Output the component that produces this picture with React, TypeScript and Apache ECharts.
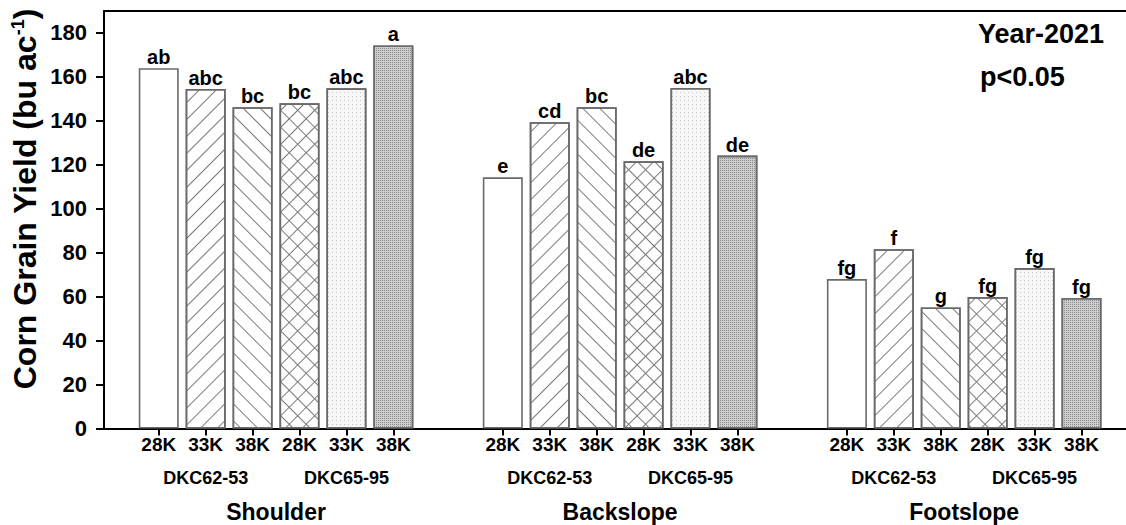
import React, { useEffect, useRef } from "react";
import * as echarts from "echarts";

// ---------- data ----------
const SLOPES = ["Shoulder", "Backslope", "Footslope"];
const CULTIVARS = ["DKC62-53", "DKC65-95"];
const DENSITIES = ["28K", "33K", "38K"];

const SHOULDER_YIELD = [164.0, 154.5, 146.2, 148.0, 154.8, 174.3];
const BACKSLOPE_YIELD = [114.3, 139.4, 146.2, 121.6, 155.0, 124.2];
const FOOTSLOPE_YIELD = [68.0, 81.6, 55.1, 59.8, 73.0, 59.4];

const SHOULDER_LETTERS = ["ab", "abc", "bc", "bc", "abc", "a"];
const BACKSLOPE_LETTERS = ["e", "cd", "bc", "de", "abc", "de"];
const FOOTSLOPE_LETTERS = ["fg", "f", "g", "fg", "fg", "fg"];

const Y_TICKS = [0, 20, 40, 60, 80, 100, 120, 140, 160, 180];

const YEAR_NOTE = "Year-2021";
const P_NOTE = "p<0.05";

// ---------- layout ----------
const W = 1126;
const H = 525;
const GRID_LEFT = 104;
const GRID_TOP = 11;
const GRID_HEIGHT = 417.5;
const UNIT_PX = 7.82;
const X_MAX = (W - GRID_LEFT) / UNIT_PX;
const FIRST = 7;
const BAR_STEP = 6;
const GROUP_STEP = 44;
const FONT = "'Liberation Sans', Arial, Helvetica, sans-serif";

const YIELDS = [SHOULDER_YIELD, BACKSLOPE_YIELD, FOOTSLOPE_YIELD];
const LETTERS = [SHOULDER_LETTERS, BACKSLOPE_LETTERS, FOOTSLOPE_LETTERS];

const pos = (g: number, b: number) => FIRST + g * GROUP_STEP + b * BAR_STEP;

const BORDER = "#6a6a6a";
const LINE_GRAY = "#7a7a7a";
const CROSS_PERIOD = 12;
const CROSS_ROWS = [[1, 0]].concat(Array.from({ length: CROSS_PERIOD - 1 }, () => [1, CROSS_PERIOD - 1]));
const STYLES: any[] = [
  { color: "#ffffff", borderColor: BORDER, borderWidth: 1.6 },
  {
    color: "#ffffff",
    borderColor: BORDER,
    borderWidth: 1.6,
    decal: {
      symbol: "rect",
      symbolSize: 1,
      dashArrayX: [1, 0],
      dashArrayY: [1, 11],
      rotation: -Math.PI / 4,
      color: LINE_GRAY,
    },
  },
  {
    color: "#ffffff",
    borderColor: BORDER,
    borderWidth: 1.6,
    decal: {
      symbol: "rect",
      symbolSize: 1,
      dashArrayX: [1, 0],
      dashArrayY: [1, 11],
      rotation: Math.PI / 4,
      color: LINE_GRAY,
    },
  },
  {
    color: "#ffffff",
    borderColor: BORDER,
    borderWidth: 1.6,
    decal: {
      symbol: "rect",
      symbolSize: 1,
      dashArrayX: CROSS_ROWS,
      dashArrayY: [1, 0],
      rotation: Math.PI / 4,
      color: LINE_GRAY,
    },
  },
  {
    color: "#f7f7f7",
    borderColor: BORDER,
    borderWidth: 1.6,
    decal: {
      symbol: "rect",
      symbolSize: 1,
      dashArrayX: [1, 3],
      dashArrayY: [1, 3],
      color: "#c4c4c4",
    },
  },
  {
    color: "#cdcdcd",
    borderColor: BORDER,
    borderWidth: 1.6,
    decal: {
      symbol: "rect",
      symbolSize: 1,
      dashArrayX: [1, 1],
      dashArrayY: [1, 1],
      color: "#8e8e8e",
    },
  },
];

const BAR_POSITIONS = SLOPES.flatMap((_, g) => DENSITIES.concat(DENSITIES).map((__, b) => pos(g, b)));
const CULTIVAR_POSITIONS = SLOPES.flatMap((_, g) => CULTIVARS.map((__, c) => pos(g, c * 3 + 1)));
const SLOPE_POSITIONS = SLOPES.map((_, g) => pos(g, 2.5));

const labelFor = (v: number, positions: number[], names: string[]) => {
  const i = positions.findIndex((p) => Math.abs(p - v) < 0.01);
  return i >= 0 ? names[i] : "";
};

export default function App() {
  const ref = useRef<HTMLDivElement>(null);

  useEffect(() => {
    if (!ref.current) return;
    const chart = echarts.init(ref.current, undefined, { renderer: "svg" });

    const densityNames = SLOPES.flatMap(() => DENSITIES.concat(DENSITIES));
    const cultivarNames = SLOPES.flatMap(() => CULTIVARS);

    const baseX = {
      type: "value",
      gridIndex: 0,
      min: 0,
      max: X_MAX,
      splitLine: { show: false },
    };

    const series = [0, 1, 2, 3, 4, 5].map((b) => ({
      type: "bar",
      name: `${CULTIVARS[Math.floor(b / 3)]} ${DENSITIES[b % 3]}`,
      xAxisIndex: 0,
      yAxisIndex: 0,
      barWidth: 40,
      barGap: "-100%",
      data: YIELDS.map((vals, g) => [pos(g, b), vals[b]]),
      itemStyle: STYLES[b],
      label: {
        show: true,
        position: "top",
        distance: 1,
        formatter: (p: any) => LETTERS[p.dataIndex][b],
        fontSize: 20,
        fontWeight: "bold",
        fontFamily: FONT,
        color: "#000",
      },
    }));

    chart.setOption({
      animation: false,
      backgroundColor: "#ffffff",
      grid: { left: GRID_LEFT, top: GRID_TOP, width: W - GRID_LEFT, height: GRID_HEIGHT, containLabel: false },
      xAxis: [
        {
          ...baseX,
          position: "bottom",
          axisLine: { show: true, onZero: false, lineStyle: { color: "#000", width: 2 } },
          axisTick: {
            show: true,
            length: 7,
            lineStyle: { color: "#000", width: 2 },
            customValues: BAR_POSITIONS,
          },
          axisLabel: {
            show: true,
            margin: 6,
            customValues: BAR_POSITIONS,
            formatter: (v: number) => labelFor(v, BAR_POSITIONS, densityNames),
            fontSize: 19,
            fontWeight: "bold",
            fontFamily: FONT,
            color: "#000",
          },
        },
        {
          ...baseX,
          position: "bottom",
          offset: 34,
          axisLine: { show: false },
          axisTick: { show: false },
          axisLabel: {
            show: true,
            margin: 6,
            customValues: CULTIVAR_POSITIONS,
            formatter: (v: number) => labelFor(v, CULTIVAR_POSITIONS, cultivarNames),
            fontSize: 18,
            fontWeight: "bold",
            fontFamily: FONT,
            color: "#000",
          },
        },
        {
          ...baseX,
          position: "bottom",
          offset: 66,
          axisLine: { show: false },
          axisTick: { show: false },
          axisLabel: {
            show: true,
            margin: 6,
            customValues: SLOPE_POSITIONS,
            formatter: (v: number) => labelFor(v, SLOPE_POSITIONS, SLOPES),
            fontSize: 23,
            fontWeight: "bold",
            fontFamily: FONT,
            color: "#000",
          },
        },
        {
          ...baseX,
          position: "top",
          axisLine: { show: true, onZero: false, lineStyle: { color: "#000", width: 2 } },
          axisTick: { show: false },
          axisLabel: { show: false },
        },
      ],
      yAxis: {
        type: "value",
        min: 0,
        max: 190,
        interval: 10,
        splitLine: { show: false },
        axisLine: { show: true, onZero: false, lineStyle: { color: "#000", width: 2 } },
        axisTick: {
          show: true,
          length: 8,
          lineStyle: { color: "#000", width: 2 },
          customValues: Y_TICKS,
        },
        axisLabel: {
          show: true,
          margin: 17,
          customValues: Y_TICKS,
          fontSize: 22,
          fontWeight: "bold",
          fontFamily: FONT,
          color: "#000",
        },
      },
      graphic: [
        {
          type: "text",
          x: 25,
          y: 199,
          rotation: Math.PI / 2,
          style: {
            text: "{t|Corn Grain Yield (bu ac}{s|-1}{t|)}",
            align: "center",
            verticalAlign: "middle",
            fill: "#000",
            rich: {
              t: { fontSize: 32, fontWeight: "bold", fontFamily: FONT, fill: "#000" },
              s: { fontSize: 18, fontWeight: "bold", fontFamily: FONT, fill: "#000", verticalAlign: "top" },
            },
          },
        },
        {
          type: "text",
          left: 978,
          top: 20,
          style: { text: YEAR_NOTE, fontSize: 27, fontWeight: "bold", fontFamily: FONT, fill: "#000" },
        },
        {
          type: "text",
          left: 980,
          top: 63,
          style: { text: P_NOTE, fontSize: 27, fontWeight: "bold", fontFamily: FONT, fill: "#000" },
        },
      ],
      series,
    });

    return () => chart.dispose();
  }, []);

  return (
    <div
      ref={ref}
      style={{ position: "fixed", left: 0, top: 0, width: W, height: H, background: "#fff" }}
    />
  );
}
